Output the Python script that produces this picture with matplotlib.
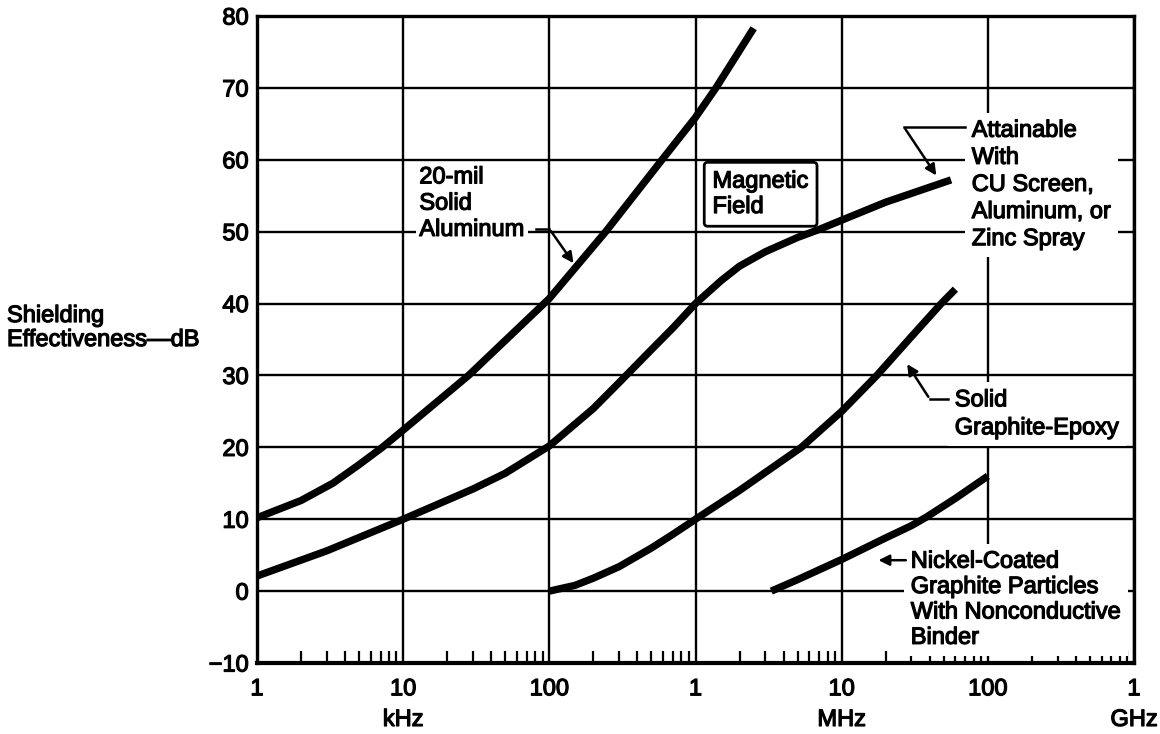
import numpy as np
import matplotlib
matplotlib.use('Agg')
import matplotlib.pyplot as plt
import matplotlib.patheffects as pe

plt.rcParams['font.family'] = ['Liberation Sans', 'DejaVu Sans']

# frequencies in kHz, shielding effectiveness in dB
al_f = [1, 2, 3.3, 5, 7.2, 10, 28, 100, 243, 590, 1000, 1380, 2500]
al_db = [10.2, 12.6, 15, 17.6, 20, 22.4, 30, 40.7, 50, 60, 65.9, 70, 78.3]

mag_f = [1, 3, 10, 30, 50, 100, 200, 300, 500, 700, 1000, 1500, 2000, 3000, 5000, 7000, 10000, 20000, 56000]
mag_db = [2.1, 5.6, 10, 14.2, 16.4, 20.2, 25.4, 29.0, 33.6, 36.6, 40, 43.2, 45.2, 47.2, 49.2, 50.3, 51.6, 54.1, 57.2]

ge_f = [100, 150, 200, 300, 500, 700, 1000, 2000, 3000, 5300, 10000, 17400, 30000, 48000, 60000]
ge_db = [0, 0.8, 1.8, 3.4, 6.0, 7.9, 10, 14, 16.5, 20, 25, 30, 35.4, 40, 42]

ni_f = [3300, 5000, 10000, 20000, 30000, 38000, 60000, 100000]
ni_db = [0, 1.6, 4.4, 7.4, 9.1, 10.3, 12.9, 16]

xticks = [1, 10, 100, 1e3, 1e4, 1e5, 1e6]
xlabels = ['1', '10', '100', '1', '10', '100', '1']
yticks = list(range(-10, 81, 10))
ylabels = ['\u221210'] + [str(v) for v in yticks[1:]]

FS = 17
bold = [pe.withStroke(linewidth=0.9, foreground='k')]

fig = plt.figure(figsize=(11.6, 7.34), dpi=100)
ax = fig.add_axes([257/1160, 1-663/734, 877/1160, 647/734])
ax.set_xscale('log')
ax.set_xlim(1, 1e6)
ax.set_ylim(-10, 80)

for f, db in [(al_f, al_db), (mag_f, mag_db), (ge_f, ge_db), (ni_f, ni_db)]:
    ax.plot(f, db, color='k', lw=5.3, solid_capstyle='butt', solid_joinstyle='round', zorder=3)

ax.set_xticks(xticks)
ax.set_xticklabels(xlabels, fontsize=FS)
ax.set_yticks(yticks)
ax.set_yticklabels(ylabels, fontsize=FS)
plt.setp(ax.get_xticklabels() + ax.get_yticklabels(), path_effects=bold)
ax.xaxis.set_minor_locator(matplotlib.ticker.LogLocator(base=10, subs=np.arange(2, 10)))
ax.xaxis.set_minor_formatter(matplotlib.ticker.NullFormatter())
ax.tick_params(which='major', length=0, pad=11)
ax.tick_params(axis='y', which='major', pad=6)
ax.tick_params(which='minor', direction='in', length=8.5, width=1.6, top=False)
ax.grid(True, which='major', color='k', lw=1.7)
for s in ax.spines.values():
    s.set_linewidth(2.4)
ax.spines['bottom'].set_linewidth(3)

tb = ax.get_xaxis_transform()
ax.text(10, -0.088, 'kHz', transform=tb, ha='center', va='center', fontsize=FS, path_effects=bold)
ax.text(1e4, -0.088, 'MHz', transform=tb, ha='center', va='center', fontsize=FS, path_effects=bold)
ax.text(1e6, -0.088, 'GHz', transform=tb, ha='center', va='center', fontsize=FS, path_effects=bold)

fig.text(7/1160, 1-316/734, 'Shielding', ha='left', va='center', fontsize=FS, path_effects=bold)
fig.text(7/1160, 1-340/734, 'Effectiveness\u2014dB', ha='left', va='center', fontsize=FS,
         path_effects=bold)

def white(pad):
    return dict(facecolor='white', edgecolor='none', boxstyle='square,pad=%s' % pad)

arrow = dict(arrowstyle='-|>', color='k', lw=1.8, mutation_scale=16)

ax.text(12.9, 53.9, '20-mil\nSolid\nAluminum', ha='left', va='center', fontsize=FS,
        linespacing=1.25, bbox=white(0.15), zorder=4, path_effects=bold)
ax.plot([81, 100], [50.4, 50.4], color='k', lw=1.8, zorder=5)
ax.annotate('', xy=(150, 45.3), xytext=(100, 50.4), arrowprops=arrow, zorder=5)

ax.text(1307, 55.2, 'Magnetic\nField', ha='left', va='center', fontsize=FS,
        linespacing=1.2, zorder=4, path_effects=bold,
        bbox=dict(facecolor='white', edgecolor='k', lw=2, boxstyle='round,pad=0.35,rounding_size=0.15'))

ax.text(77600, 56.5, 'Attainable\nWith\nCU Screen,\nAluminum, or\nZinc Spray', ha='left', va='center',
        fontsize=FS, linespacing=1.3, bbox=white(0.3), zorder=4, path_effects=bold)
ax.plot([26600, 69500], [64.6, 64.6], color='k', lw=1.8, zorder=5)
ax.annotate('', xy=(45500, 57.5), xytext=(26600, 64.6), arrowprops=arrow, zorder=5)

ax.text(59400, 24.6, 'Solid\nGraphite-Epoxy', ha='left', va='center', fontsize=FS,
        linespacing=1.35, bbox=white(0.3), zorder=4, path_effects=bold)
ax.plot([40100, 53200], [26.7, 26.7], color='k', lw=1.8, zorder=5)
ax.annotate('', xy=(27400, 31.9), xytext=(40100, 26.7), arrowprops=arrow, zorder=5)

ax.text(29700, -1.2, 'Nickel-Coated\nGraphite Particles\nWith Nonconductive\nBinder', ha='left',
        va='center', fontsize=FS, linespacing=1.2, bbox=white(0.3), zorder=4, path_effects=bold)
ax.annotate('', xy=(17100, 4.3), xytext=(28700, 4.3), arrowprops=arrow, zorder=5)

fig.savefig('out.png', dpi=100)
